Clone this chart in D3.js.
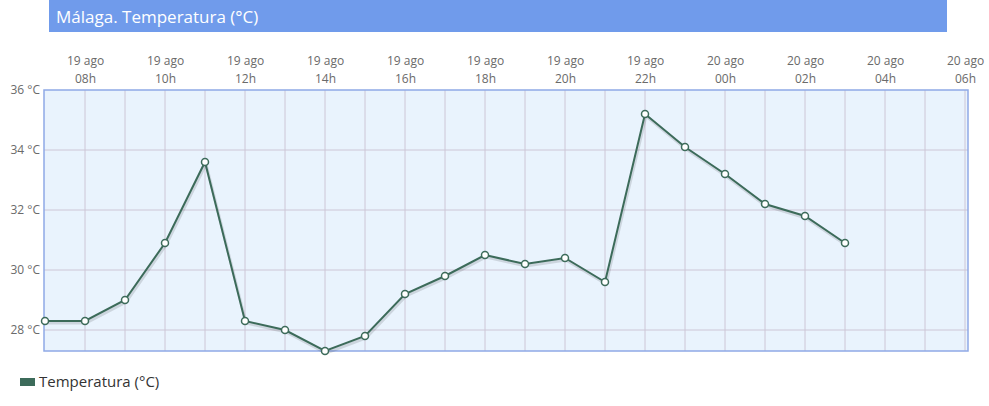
<!DOCTYPE html>
<html>
<head>
<meta charset="utf-8">
<script src="https://cdn.jsdelivr.net/npm/d3@7"></script>
<style>
  body { margin: 0; background: #fff; font-family: "Open Sans", sans-serif; }
  .axis path, .axis line { display: none; }
  .axis text { fill: #6a6a6a; font-size: 12px; font-family: "Open Sans", sans-serif; }
</style>
</head>
<body>
<svg id="chart"></svg>
<script>
// hourly readings, Málaga
let times = ["2019-08-19T07:00", "2019-08-19T08:00", "2019-08-19T09:00", "2019-08-19T10:00",
  "2019-08-19T11:00", "2019-08-19T12:00", "2019-08-19T13:00", "2019-08-19T14:00",
  "2019-08-19T15:00", "2019-08-19T16:00", "2019-08-19T17:00", "2019-08-19T18:00",
  "2019-08-19T19:00", "2019-08-19T20:00", "2019-08-19T21:00", "2019-08-19T22:00",
  "2019-08-19T23:00", "2019-08-20T00:00", "2019-08-20T01:00", "2019-08-20T02:00",
  "2019-08-20T03:00"]
let temps = [28.3, 28.3, 29.0, 30.9, 33.6, 28.3, 28.0, 27.3, 27.8, 29.2, 29.8, 30.5,
  30.2, 30.4, 29.6, 35.2, 34.1, 33.2, 32.2, 31.8, 30.9]
let yTicks = [28, 30, 32, 34, 36]
let tickTimes = ["2019-08-19T08:00", "2019-08-19T10:00", "2019-08-19T12:00", "2019-08-19T14:00",
  "2019-08-19T16:00", "2019-08-19T18:00", "2019-08-19T20:00", "2019-08-19T22:00",
  "2019-08-20T00:00", "2019-08-20T02:00", "2019-08-20T04:00", "2019-08-20T06:00"]
let months = ["ene", "feb", "mar", "abr", "may", "jun", "jul", "ago", "sep", "oct", "nov", "dic"]

let parse = d3.timeParse("%Y-%m-%dT%H:%M")
let data = times.map((t, i) => ({t: parse(t), v: temps[i]}))

let W = 989, H = 406
let pLeft = 44, pRight = 968, pTop = 90, pBottom = 351

let svg = d3.select("#chart").attr("width", W).attr("height", H)

// title bar
svg.append("rect").attr("x", 49).attr("y", 0).attr("width", 898).attr("height", 32)
  .attr("fill", "#709beb")
svg.append("text").attr("x", 56).attr("y", 23).attr("fill", "#fff")
  .style("font-size", "17px").text("Málaga. Temperatura (°C)")

let x = d3.scaleTime()
  .domain([parse("2019-08-19T07:00"), parse("2019-08-20T06:00")])
  .range([45, 965])
let y = d3.scaleLinear().domain([27.3, 36]).range([pBottom, pTop])

// plot background
svg.append("rect").attr("x", pLeft).attr("y", pTop)
  .attr("width", pRight - pLeft).attr("height", pBottom - pTop)
  .attr("fill", "#e9f3fd")

// vertical grid, every hour
let hours = d3.timeHour.range(parse("2019-08-19T08:00"), parse("2019-08-20T07:00"))
svg.append("g").selectAll("line").data(hours).enter().append("line")
  .attr("x1", d => x(d)).attr("x2", d => x(d))
  .attr("y1", pTop).attr("y2", pBottom)
  .attr("stroke", "#cdc6d6").attr("stroke-width", 1)

svg.append("g").selectAll("line").data(yTicks.slice(0, -1)).enter().append("line")
  .attr("x1", pLeft).attr("x2", pRight)
  .attr("y1", d => y(d)).attr("y2", d => y(d))
  .attr("stroke", "#cdc6d6").attr("stroke-width", 1)

// border
svg.append("rect").attr("x", pLeft).attr("y", pTop)
  .attr("width", pRight - pLeft).attr("height", pBottom - pTop)
  .attr("fill", "none").attr("stroke", "#8fa9e6").attr("stroke-width", 1.5)

// y axis labels
let yAxis = d3.axisLeft(y).tickValues(yTicks).tickSize(0).tickPadding(4)
  .tickFormat(d => d + " °C")
svg.append("g").attr("class", "axis").attr("transform", "translate(" + pLeft + ",0)").call(yAxis)

// x axis labels (two lines)
let xAxis = d3.axisTop(x).tickValues(tickTimes.map(parse)).tickSize(0).tickFormat("")
let gx = svg.append("g").attr("class", "axis").attr("transform", "translate(0,86)").call(xAxis)
gx.selectAll(".tick text").each(function(d) {
  let t = d3.select(this)
  t.append("tspan").attr("x", 0).attr("dy", "-1.5em")
    .text(d.getDate() + " " + months[d.getMonth()])
  t.append("tspan").attr("x", 0).attr("dy", "1.5em")
    .text(d3.timeFormat("%H")(d) + "h")
})

let line = d3.line().x(d => x(d.t)).y(d => y(d.v))

// soft shadow under the line
svg.append("path").datum(data).attr("d", line)
  .attr("fill", "none").attr("stroke", "#000").attr("stroke-opacity", 0.12)
  .attr("stroke-width", 3).attr("transform", "translate(1,2)")
svg.append("path").datum(data).attr("d", line)
  .attr("fill", "none").attr("stroke", "#3c6b5a").attr("stroke-width", 2)

svg.append("g").selectAll("circle").data(data).enter().append("circle")
  .attr("cx", d => x(d.t)).attr("cy", d => y(d.v)).attr("r", 3.5)
  .attr("fill", "#fff").attr("stroke", "#3c6b5a").attr("stroke-width", 1.5)

// legend
svg.append("rect").attr("x", 20).attr("y", 378).attr("width", 15).attr("height", 8)
  .attr("fill", "#3c6b5a")
svg.append("text").attr("x", 39).attr("y", 387).attr("fill", "#333")
  .style("font-size", "15px").text("Temperatura (°C)")
</script>
</body>
</html>
